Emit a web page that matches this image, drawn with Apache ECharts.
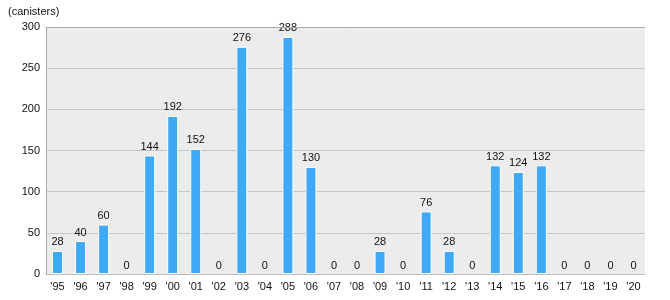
<!DOCTYPE html>
<html><head><meta charset="utf-8">
<script src="https://cdn.jsdelivr.net/npm/echarts@6/dist/echarts.min.js"></script>
<style>html,body{margin:0;padding:0;background:#fff}#c{width:670px;height:300px}</style>
</head><body><div id="c"></div>
<script>
const categories = ["'95","'96","'97","'98","'99","'00","'01","'02","'03","'04","'05","'06","'07","'08","'09","'10","'11","'12","'13","'14","'15","'16","'17","'18","'19","'20"];
const values = [28,40,60,0,144,192,152,0,276,0,288,130,0,0,28,0,76,28,0,132,124,132,0,0,0,0];
const yTicks = [0,50,100,150,200,250,300];
const font = 'Arial, "Liberation Sans", sans-serif';
const chart = echarts.init(document.getElementById('c'));
chart.setOption({
  animation:false,
  graphic:[{type:'text',left:8,top:6,style:{text:'(canisters)',font:'11px '+font,fill:'#111'}},
    {type:'line',shape:{x1:46,y1:27.5,x2:645,y2:27.5},style:{stroke:'#aaa',lineWidth:1},z:10}],
  grid:{left:46,right:25,top:27,bottom:26,show:true,backgroundColor:'#ececec',borderWidth:0},
  xAxis:{type:'category',data:categories,
    axisLine:{show:true,lineStyle:{color:'#bbb'}},axisTick:{show:false},
    axisLabel:{color:'#111',fontFamily:font,fontSize:11,margin:7,interval:0}},
  yAxis:{type:'value',min:0,max:300,interval:50,
    axisLine:{show:true,lineStyle:{color:'#aaa'}},axisTick:{show:false},
    splitLine:{lineStyle:{color:'#c6c6c6',width:1}},
    axisLabel:{color:'#111',fontFamily:font,fontSize:11,margin:6,formatter:v=>yTicks.includes(v)?String(v):''}},
  series:[{type:'bar',barWidth:11,
    data:values.map(v=>v===0?{value:v,itemStyle:{borderWidth:0}}:v),
    itemStyle:{color:'#3fa9f5',borderColor:'#ffffff',borderWidth:1},
    label:{show:true,position:'top',distance:3,color:'#111',fontFamily:font,fontSize:11}}]
});
</script></body></html>
